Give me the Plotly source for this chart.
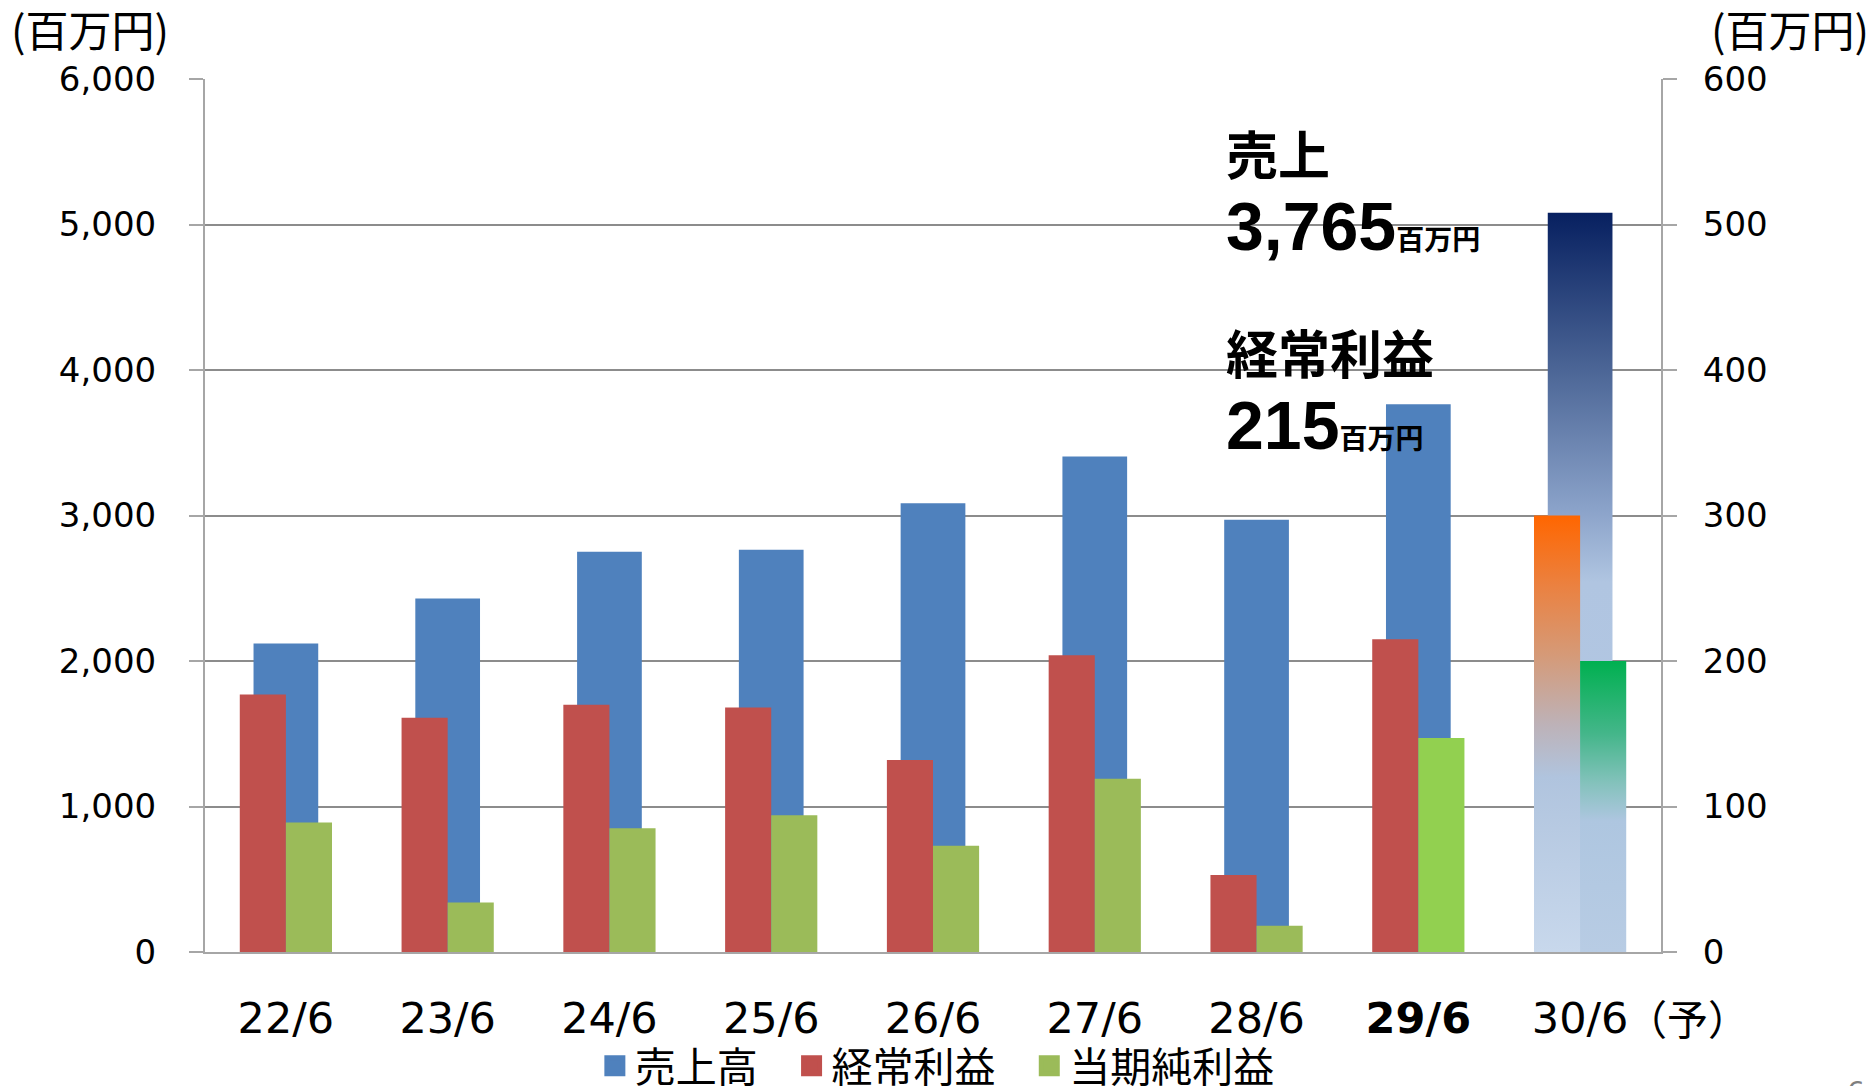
import plotly.graph_objects as go

# ---------------- data ----------------
categories = ["22/6", "23/6", "24/6", "25/6", "26/6", "27/6", "28/6", "29/6", "30/6"]
tick_labels = ["22/6", "23/6", "24/6", "25/6", "26/6", "27/6", "28/6", "<b>29/6</b>", "30/6"]
sales = [2120, 2430, 2750, 2765, 3085, 3405, 2970, 3765, 5080]          # 売上高 (left axis)
ordinary_profit = [177, 161, 170, 168, 132, 204, 53, 215, 300]          # 経常利益 (right axis)
net_profit = [89, 34, 85, 94, 73, 119, 18, 147, 200]                    # 当期純利益 (right axis)
series_names = ["売上高", "経常利益", "当期純利益"]

n_actual = 8  # 22/6 .. 29/6 are actuals, 30/6 is forecast

BLUE = "#4F81BD"
RED = "#C0504D"
GREEN = "#9BBB59"
GREEN_HI = "#92D050"
CJK = "Noto Sans CJK JP"
NUM = "DejaVu Sans"

SALES_W, SALES_OFF = 0.40, -0.20
PROF_W = 0.285

xs = list(range(len(categories)))
green_colors = [GREEN] * (n_actual - 1) + [GREEN_HI]

fig = go.Figure()

fig.add_trace(go.Bar(
    x=xs[:n_actual], y=sales[:n_actual], name=series_names[0],
    marker=dict(color=BLUE, line=dict(width=0)), showlegend=False,
    width=SALES_W, offset=SALES_OFF, yaxis="y", xaxis="x",
))


def rect(i, w, off, v):
    x0 = xs[i] + off
    x1 = x0 + w
    return [x0, x1, x1, x0, x0], [0, 0, v, v, 0]


# forecast sales bar (gradient)
rx, ry = rect(n_actual, SALES_W, SALES_OFF, sales[n_actual])
fig.add_trace(go.Scatter(
    x=rx, y=ry, mode="lines", fill="toself", line=dict(width=0),
    fillgradient=dict(type="vertical", colorscale=[
        [0.0, "#C8D8EC"], [0.10, "#B4C8E3"], [0.50, "#B0C5E1"],
        [0.60, "#8AA2C9"], [0.78, "#4E6898"], [1.0, "#072060"]]),
    showlegend=False, hoverinfo="skip", xaxis="x", yaxis="y",
))

fig.add_trace(go.Bar(
    x=xs[:n_actual], y=ordinary_profit[:n_actual], name=series_names[1],
    marker=dict(color=RED, line=dict(width=0)), showlegend=False,
    width=PROF_W, offset=-PROF_W, yaxis="y2", xaxis="x",
))
fig.add_trace(go.Bar(
    x=xs[:n_actual], y=net_profit[:n_actual], name=series_names[2],
    marker=dict(color=green_colors, line=dict(width=0)), showlegend=False,
    width=PROF_W, offset=0, yaxis="y2", xaxis="x",
))

# forecast profit bars (gradient)
rx, ry = rect(n_actual, PROF_W, -PROF_W, ordinary_profit[n_actual])
fig.add_trace(go.Scatter(
    x=rx, y=ry, mode="lines", fill="toself", line=dict(width=0),
    fillgradient=dict(type="vertical", colorscale=[
        [0.0, "#C8D8EC"], [0.40, "#B0C4DE"], [0.52, "#BDB2B8"],
        [0.68, "#D59A78"], [0.84, "#EB8140"], [1.0, "#FF6600"]]),
    showlegend=False, hoverinfo="skip", xaxis="x", yaxis="y2",
))
rx, ry = rect(n_actual, PROF_W, 0, net_profit[n_actual])
fig.add_trace(go.Scatter(
    x=rx, y=ry, mode="lines", fill="toself", line=dict(width=0),
    fillgradient=dict(type="vertical", colorscale=[
        [0.0, "#B8CCE4"], [0.45, "#AEC6E0"], [0.58, "#84C2BC"],
        [0.75, "#44B68A"], [1.0, "#00B050"]]),
    showlegend=False, hoverinfo="skip", xaxis="x", yaxis="y2",
))

# legend entries (square swatches)
legend_colors = [BLUE, RED, GREEN]
legend_suffix = ["\u2002\u2009", "\u2002\u2009", ""]
for nm, col, suf in zip(series_names, legend_colors, legend_suffix):
    fig.add_trace(go.Scatter(
        x=[None], y=[None], mode="markers", name=nm + suf,
        marker=dict(symbol="square", size=16, color=col, line=dict(width=5, color=col)),
        showlegend=True, hoverinfo="skip", xaxis="x", yaxis="y",
    ))

AX = "#A6A6A6"
GRID = "#8C8C8C"

fig.update_layout(
    width=1866, height=1078,
    margin=dict(l=197, r=213, t=71, b=134, autoexpand=False),
    paper_bgcolor="white", plot_bgcolor="white",
    barmode="overlay",
    xaxis=dict(
        range=[-0.5, len(categories) - 0.5], tickmode="array",
        tickvals=xs, ticktext=tick_labels, showgrid=False, zeroline=False,
        showline=True, linecolor=AX, linewidth=2, ticks="",
        tickfont=dict(family=NUM, size=43, color="black"),
        ticklabelstandoff=27,
    ),
    yaxis=dict(
        range=[0, 6000], dtick=1000, tickformat=",d",
        showgrid=True, gridcolor=GRID, gridwidth=2, zeroline=False,
        showline=True, linecolor=AX, linewidth=2,
        ticks="outside", ticklen=14, tickcolor=AX, tickwidth=2,
        tickfont=dict(family=NUM, size=34, color="black"),
        ticklabelstandoff=26,
    ),
    yaxis2=dict(
        range=[0, 600], dtick=100, overlaying="y", side="right",
        showgrid=False, zeroline=False,
        showline=True, linecolor=AX, linewidth=2,
        ticks="outside", ticklen=14, tickcolor=AX, tickwidth=2,
        tickfont=dict(family=NUM, size=34, color="black"),
        ticklabelstandoff=19,
    ),
    legend=dict(
        orientation="h", x=0.503, xanchor="center", y=-0.1306, yanchor="middle",
        font=dict(family=CJK, size=41, color="black"),
        itemwidth=30, traceorder="normal", bgcolor="rgba(0,0,0,0)",
    ),
    showlegend=True,
)

annotations = [
    dict(text="(百万円)", xref="paper", yref="paper", x=-0.1343, y=1.058,
         xanchor="left", yanchor="middle", showarrow=False,
         font=dict(family=CJK, size=43, color="black")),
    dict(text="(百万円)", xref="paper", yref="paper", x=1.1443, y=1.058,
         xanchor="right", yanchor="middle", showarrow=False,
         font=dict(family=CJK, size=43, color="black")),
    dict(text="（予）", xref="paper", yref="paper", x=0.9745, y=-0.074,
         xanchor="left", yanchor="middle", showarrow=False,
         font=dict(family=CJK, size=41, color="black")),
    dict(text="<b>売上</b>", xref="paper", yref="paper", x=0.700, y=0.916,
         xanchor="left", yanchor="middle", showarrow=False,
         font=dict(family=CJK, size=52, color="black")),
    dict(text="<b>3,765</b><b><span style='font-size:28px;font-family:Noto Sans CJK JP'>百万円</span></b>",
         xref="paper", yref="paper", x=0.700, y=0.832,
         xanchor="left", yanchor="middle", showarrow=False,
         font=dict(family="Liberation Sans", size=68, color="black")),
    dict(text="<b>経常利益</b>", xref="paper", yref="paper", x=0.700, y=0.688,
         xanchor="left", yanchor="middle", showarrow=False,
         font=dict(family=CJK, size=52, color="black")),
    dict(text="<b>215</b><b><span style='font-size:28px;font-family:Noto Sans CJK JP'>百万円</span></b>",
         xref="paper", yref="paper", x=0.700, y=0.604,
         xanchor="left", yanchor="middle", showarrow=False,
         font=dict(family="Liberation Sans", size=68, color="black")),
    dict(text="6", xref="paper", yref="paper", x=1.1264, y=-0.1397,
         xanchor="left", yanchor="top", showarrow=False,
         font=dict(family=NUM, size=28, color="#7F7F7F")),
]
fig.update_layout(annotations=annotations)

fig.write_html("out.html")
